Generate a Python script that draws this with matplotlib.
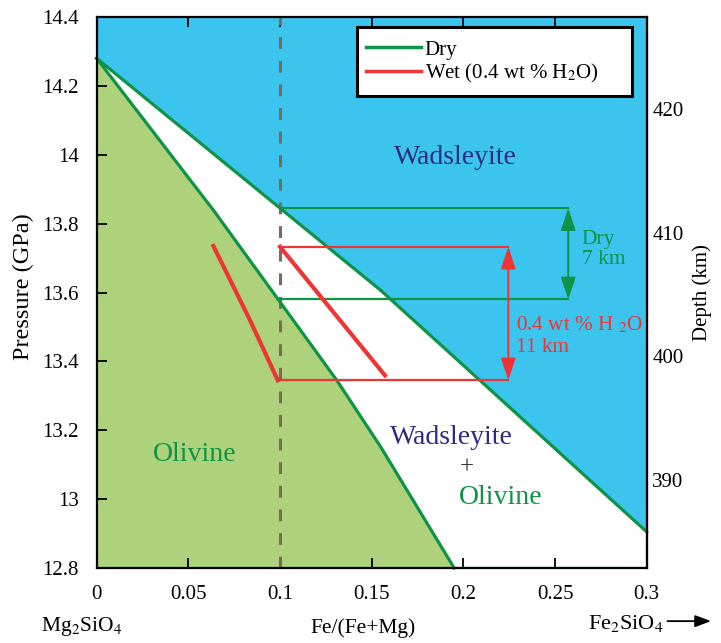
import matplotlib
matplotlib.use("Agg")
import matplotlib.pyplot as plt
from matplotlib.patches import Rectangle

plt.rcParams['font.family'] = ['Liberation Serif', 'DejaVu Serif']
plt.rcParams['mathtext.fontset'] = 'stix'
plt.rcParams['lines.scale_dashes'] = False

# phase boundaries (x = Fe/(Fe+Mg), y = pressure in GPa)
upper_x = [0.0, 0.1, 0.155, 0.209, 0.3]
upper_p = [14.28, 13.845, 13.606, 13.345, 12.905]
lower_x = [0.0, 0.0637, 0.099, 0.131, 0.155, 0.195]
lower_p = [14.28, 13.839, 13.58, 13.345, 13.151, 12.8]

# wet (0.4 wt% H2O) boundaries
wet_low_x = [0.0637, 0.0837, 0.0988]
wet_low_p = [13.735, 13.519, 13.345]
wet_up_x = [0.1, 0.1573]
wet_up_p = [13.733, 13.359]

x_fe = 0.1
dry_top, dry_bot = 13.845, 13.58
wet_top, wet_bot = 13.733, 13.345
dry_arrow_x = 0.2572
wet_arrow_x = 0.2245

p_ticks = [12.8, 13.0, 13.2, 13.4, 13.6, 13.8, 14.0, 14.2, 14.4]
p_labels = ["12.8", "13", "13.2", "13.4", "13.6", "13.8", "14", "14.2", "14.4"]
x_ticks = [0, 0.05, 0.1, 0.15, 0.2, 0.25, 0.3]
x_labels = ["0", "0.05", "0.1", "0.15", "0.2", "0.25", "0.3"]
depth_ticks = [390, 400, 410, 420]

BLUE = "#3bc4ee"
OLV = "#aed27b"
GREEN = "#0e9347"
RED = "#ee3535"
NAVY = "#2c2b7f"
DASH = "#7c6a57"

# pressure <-> depth (400 km at 13.4145 GPa, ~27.8 km/GPa)
def p2d(p):
    return 400 + (p - 13.4145) * 27.81

def d2p(d):
    return 13.4145 + (d - 400) / 27.81


def main():
    fig = plt.figure(figsize=(7.21, 6.43), dpi=100)
    ax = fig.add_axes([0.134, 0.1166, 0.763, 0.857])
    ax.set_xlim(0, 0.3)
    ax.set_ylim(12.8, 14.4)

    # regions
    ax.fill(upper_x + [0.3, 0.0], upper_p + [14.4, 14.4], color=BLUE, lw=0)
    ax.fill(lower_x + [0.0], lower_p + [12.8], color=OLV, lw=0)

    ax.axvline(x_fe, color=DASH, lw=2.2, dashes=(8.5, 8.5), zorder=2)

    ax.plot(upper_x, upper_p, color=GREEN, lw=2.3, zorder=3, clip_on=False)
    ax.plot(lower_x, lower_p, color=GREEN, lw=2.3, zorder=3, clip_on=False)
    ax.plot([lower_x[-1], 0.3, 0.3], [12.8, 12.8, upper_p[-1]], color=GREEN, lw=2.3, zorder=3)

    # dry and wet intervals
    for p in (dry_top, dry_bot):
        ax.plot([x_fe, dry_arrow_x], [p, p], color=GREEN, lw=1.6, zorder=4)
    for p in (wet_top, wet_bot):
        ax.plot([x_fe, wet_arrow_x], [p, p], color=RED, lw=1.6, zorder=4)
    ax.plot(wet_low_x, wet_low_p, color=RED, lw=3.0, zorder=5)
    ax.plot(wet_up_x, wet_up_p, color=RED, lw=3.0, zorder=5)

    arr = dict(arrowstyle="<|-|>,head_length=0.9,head_width=0.3", mutation_scale=15,
               shrinkA=0, shrinkB=0, lw=1.4)
    ax.annotate("", xy=(dry_arrow_x, dry_bot), xytext=(dry_arrow_x, dry_top),
                arrowprops=dict(arr, color=GREEN), zorder=6)
    ax.annotate("", xy=(wet_arrow_x, wet_bot), xytext=(wet_arrow_x, wet_top),
                arrowprops=dict(arr, color=RED), zorder=6)

    # labels in the plot
    ax.text(0.1955, 13.993, "Wadsleyite", color=NAVY, fontsize=20, ha="center", va="center")
    ax.text(0.1937, 13.179, "Wadsleyite", color=NAVY, fontsize=20, ha="center", va="center")
    ax.text(0.2021, 13.093, "+", color="#333333", fontsize=18, ha="center", va="center")
    ax.text(0.2201, 13.006, "Olivine", color=GREEN, fontsize=20, ha="center", va="center")
    ax.text(0.0534, 13.130, "Olivine", color=GREEN, fontsize=20, ha="center", va="center")
    ax.text(0.2646, 13.725, "Dry\n7 km", color=GREEN, fontsize=15.5, ha="left", va="center",
            linespacing=1.12)
    ax.text(0.2288, 13.474, "0.4 wt % H $_2$O\n11 km", color=RED, fontsize=15.3, ha="left",
            va="center", linespacing=1.15)

    # legend box
    ax.add_patch(Rectangle((0.473, 0.857), 0.5, 0.125, transform=ax.transAxes,
                           facecolor="white", edgecolor="black", lw=2.2, zorder=7))
    h1, = ax.plot([], [], color=GREEN, lw=2.5, label="Dry")
    h2, = ax.plot([], [], color=RED, lw=2.5, label="Wet (0.4 wt % H$_2$O)")
    leg = ax.legend(handles=[h1, h2], loc="upper left", bbox_to_anchor=(0.49, 0.958),
                    frameon=False, fontsize=15, handlelength=2.65, handletextpad=0.15,
                    labelspacing=0.1, borderaxespad=0, borderpad=0)
    leg.set_zorder(8)

    # axes styling
    ax.set_xticks(x_ticks)
    ax.set_xticklabels(x_labels)
    ax.set_yticks(p_ticks)
    ax.set_yticklabels(p_labels)
    ax.tick_params(axis="x", direction="in", length=7, width=1.3, top=True, labelsize=15, pad=12)
    ax.tick_params(axis="y", direction="in", length=7, width=1.3, labelsize=15, pad=13)
    for s in ax.spines.values():
        s.set_linewidth(1.6)
        s.set_zorder(9)
    ax.set_ylabel("Pressure (GPa)", fontsize=17.5)
    ax.yaxis.set_label_coords(-0.113, 0.51)

    sec = ax.secondary_yaxis("right", functions=(p2d, d2p))
    sec.set_yticks(depth_ticks)
    sec.tick_params(direction="in", length=7, width=1.3, labelsize=15, pad=4)
    sec.set_ylabel("Depth (km)", fontsize=15, labelpad=6)

    # composition labels under the axis
    fig.text(0.057, 0.026, "Mg$_2$SiO$_4$", fontsize=15.5, ha="left", va="center")
    fig.text(0.503, 0.023, "Fe/(Fe+Mg)", fontsize=15.5, ha="center", va="center")
    fig.text(0.815, 0.031, "Fe$_2$SiO$_4$", fontsize=16, ha="left", va="center")
    ax.annotate("", xy=(0.99, 0.034), xytext=(0.922, 0.034), xycoords="figure fraction",
                arrowprops=dict(arrowstyle="-|>,head_length=0.8,head_width=0.3",
                                mutation_scale=12, color="black", lw=1.3))

    fig.savefig("out.png", dpi=100)


if __name__ == "__main__":
    main()
